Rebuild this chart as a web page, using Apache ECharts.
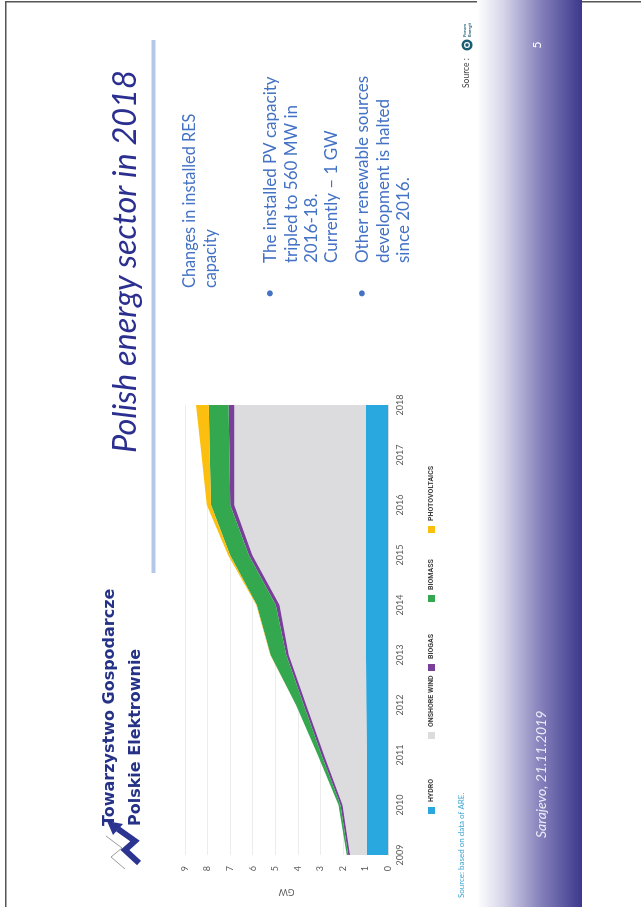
<!DOCTYPE html>
<html>
<head>
<meta charset="utf-8">
<script src="https://cdn.jsdelivr.net/npm/echarts@6/dist/echarts.min.js"></script>
<style>
  html, body { margin: 0; padding: 0; background: #fff; overflow: hidden; width: 641px; height: 907px; }
  /* The slide is laid out in landscape and turned a quarter turn counter-clockwise */
  #slide { position: absolute; left: 5px; top: 907px; width: 907px; height: 636px;
           transform-origin: 0 0; transform: rotate(-90deg); }
</style>
</head>
<body>
<div id="slide"></div>
<script>
// Installed RES capacity in Poland, GW
const years = ['2009', '2010', '2011', '2012', '2013', '2014', '2015', '2016', '2017', '2018'];
const hydro = [0.94, 0.94, 0.94, 0.96, 0.97, 0.97, 0.97, 0.97, 0.97, 0.97];
const onshoreWind = [0.74, 1.08, 1.90, 2.66, 3.43, 3.84, 5.05, 5.85, 5.85, 5.85];
const biogas = [0.08, 0.09, 0.11, 0.11, 0.11, 0.17, 0.15, 0.17, 0.21, 0.25];
const biomass = [0.07, 0.09, 0.17, 0.35, 0.70, 0.84, 0.83, 0.86, 0.87, 0.88];
const photovoltaics = [0, 0, 0, 0, 0.01, 0.02, 0.09, 0.19, 0.37, 0.56];
const yTicks = { min: 0, max: 9, interval: 1 };

const seriesDefs = [
  { name: 'HYDRO', data: hydro, color: '#29a8e0' },
  { name: 'ONSHORE WIND', data: onshoreWind, color: '#dcdcde' },
  { name: 'BIOGAS', data: biogas, color: '#7a3f99' },
  { name: 'BIOMASS', data: biomass, color: '#33a84f' },
  { name: 'PHOTOVOLTAICS', data: photovoltaics, color: '#fcbf10' }
];
// legend entries sit in evenly spaced columns
const legendLeft = [88, 163, 231, 300, 369];

const BLUE_TEXT = '#4472c4';
const NAVY = '#2b2f8f';

function txt(text, x, y, o) {
  return {
    type: 'text', x: x, y: y, silent: true,
    style: Object.assign({
      text: text, fill: BLUE_TEXT, fontSize: 17, fontFamily: 'Lato',
      textAlign: 'left', textVerticalAlign: 'middle', align: 'left', verticalAlign: 'middle'
    }, o || {})
  };
}

const graphics = [
  // page frame
  { type: 'rect', silent: true, shape: { x: 0, y: 0, width: 905, height: 1.5 }, style: { fill: '#555' } },
  { type: 'rect', silent: true, shape: { x: 904.5, y: 0, width: 1.5, height: 636 }, style: { fill: '#555' } },
  // footer band
  { type: 'rect', silent: true, shape: { x: 0, y: 472, width: 907, height: 105 },
    style: { fill: new echarts.graphic.LinearGradient(0, 0, 0, 1, [
      { offset: 0, color: 'rgba(255,255,255,1)' },
      { offset: 0.25, color: '#d6d5e9' },
      { offset: 0.6, color: '#8682bc' },
      { offset: 1, color: '#3c388c' }
    ]) } },
  txt('Sarajevo, 21.11.2019', 69, 536, { fill: '#ececf6', fontSize: 14, fontStyle: 'italic' }),
  txt('5', 862, 532, { fill: '#ffffff', fontSize: 12, textAlign: 'center', align: 'center' }),
  txt('Source :', 819, 461, { fill: '#404040', fontSize: 8.5 }),
  { type: 'circle', silent: true, shape: { cx: 862, cy: 462, r: 5.5 }, style: { fill: '#1b5e73' } },
  { type: 'circle', silent: true, shape: { cx: 862, cy: 462, r: 2.4 }, style: { fill: 'none', stroke: '#fff', lineWidth: 1.2 } },
  txt('Forum', 870, 459.5, { fill: '#1b5e73', fontSize: 4.5, fontWeight: 'bold' }),
  txt('Energii', 870, 464.5, { fill: '#1b5e73', fontSize: 4.5, fontWeight: 'bold' }),
  txt('Source: based on data of ARE.', 9, 456, { fill: '#41a5d3', fontSize: 8 }),

  // title
  { type: 'rect', silent: true, shape: { x: 334, y: 146.5, width: 533, height: 4 }, style: { fill: '#b4c7e7' } },
  txt('Polish energy sector in 2018', 454, 121, { fill: NAVY, fontSize: 32.5, fontStyle: 'italic', fontWeight: 'normal' }),

  // company logo
  { type: 'polyline', silent: true, shape: { points: [[38, 120], [50, 106], [59, 117], [71, 101]] },
    style: { stroke: '#9a9a9a', lineWidth: 1, fill: 'none' } },
  { type: 'polyline', silent: true, shape: { points: [[44, 134], [57, 120], [66, 130], [78, 113]] },
    style: { stroke: '#2b3490', lineWidth: 6, fill: 'none', lineJoin: 'miter' } },
  { type: 'polygon', silent: true, shape: { points: [[86, 102], [72, 108], [83, 118]] },
    style: { fill: '#2b3490' } },
  txt('Towarzystwo Gospodarcze', 81, 105, { fill: '#253287', fontSize: 16, fontWeight: 'bold', fontFamily: 'DejaVu Sans' }),
  txt('Polskie Elektrownie', 81, 131, { fill: '#253287', fontSize: 16, fontWeight: 'bold', fontFamily: 'DejaVu Sans' }),

  // body text
  txt('Changes in installed RES', 619, 185, { fontSize: 16.3 }),
  txt('capacity', 619, 206, { fontSize: 16.3 }),
  txt('\u2022', 609, 265, { fontSize: 16 }),
  txt('The installed PV capacity', 644, 265.5),
  txt('tripled to 560 MW in', 644, 286.5),
  txt('2016-18.', 644, 306.5),
  txt('Currently \u2013 1 GW', 644, 326.5),
  txt('\u2022', 609, 357, { fontSize: 16 }),
  txt('Other renewable sources', 644, 357.5),
  txt('development is halted', 644, 378.5),
  txt('since 2016.', 644, 398.5)
];

const chart = echarts.init(document.getElementById('slide'), null, { renderer: 'canvas' });

chart.setOption({
  animation: false,
  backgroundColor: 'transparent',
  color: seriesDefs.map(s => s.color),
  grid: { left: 52, top: 180, width: 450, height: 203 },
  legend: seriesDefs.map((s, i) => ({
    left: legendLeft[i], top: 418, orient: 'horizontal',
    itemWidth: 7, itemHeight: 7, icon: 'rect', selectedMode: false,
    data: [s.name],
    textStyle: { fontSize: 7, fontWeight: 'bold', color: '#404040', fontFamily: 'Roboto' }
  })),
  xAxis: {
    type: 'category', data: years, boundaryGap: false,
    axisTick: { show: false },
    axisLine: { lineStyle: { color: '#d9d9d9' } },
    axisLabel: { fontSize: 9, color: '#595959', margin: 8, fontFamily: 'Lato' }
  },
  yAxis: {
    type: 'value', min: yTicks.min, max: yTicks.max, interval: yTicks.interval,
    name: 'GW', nameLocation: 'middle', nameRotate: 90, nameGap: 32,
    nameTextStyle: { fontSize: 9, color: '#595959', fontFamily: 'Lato' },
    axisLine: { show: false }, axisTick: { show: false },
    axisLabel: { fontSize: 9, color: '#595959', margin: 11, fontFamily: 'Lato' },
    splitLine: { lineStyle: { color: '#ececec', width: 1 } }
  },
  series: seriesDefs.map(s => ({
    name: s.name, type: 'line', stack: 'res', data: s.data,
    showSymbol: false, symbol: 'none', silent: true,
    lineStyle: { width: 0 },
    areaStyle: { color: s.color, opacity: 1 },
    itemStyle: { color: s.color },
    emphasis: { disabled: true }
  })),
  graphic: graphics
});
</script>
</body>
</html>
